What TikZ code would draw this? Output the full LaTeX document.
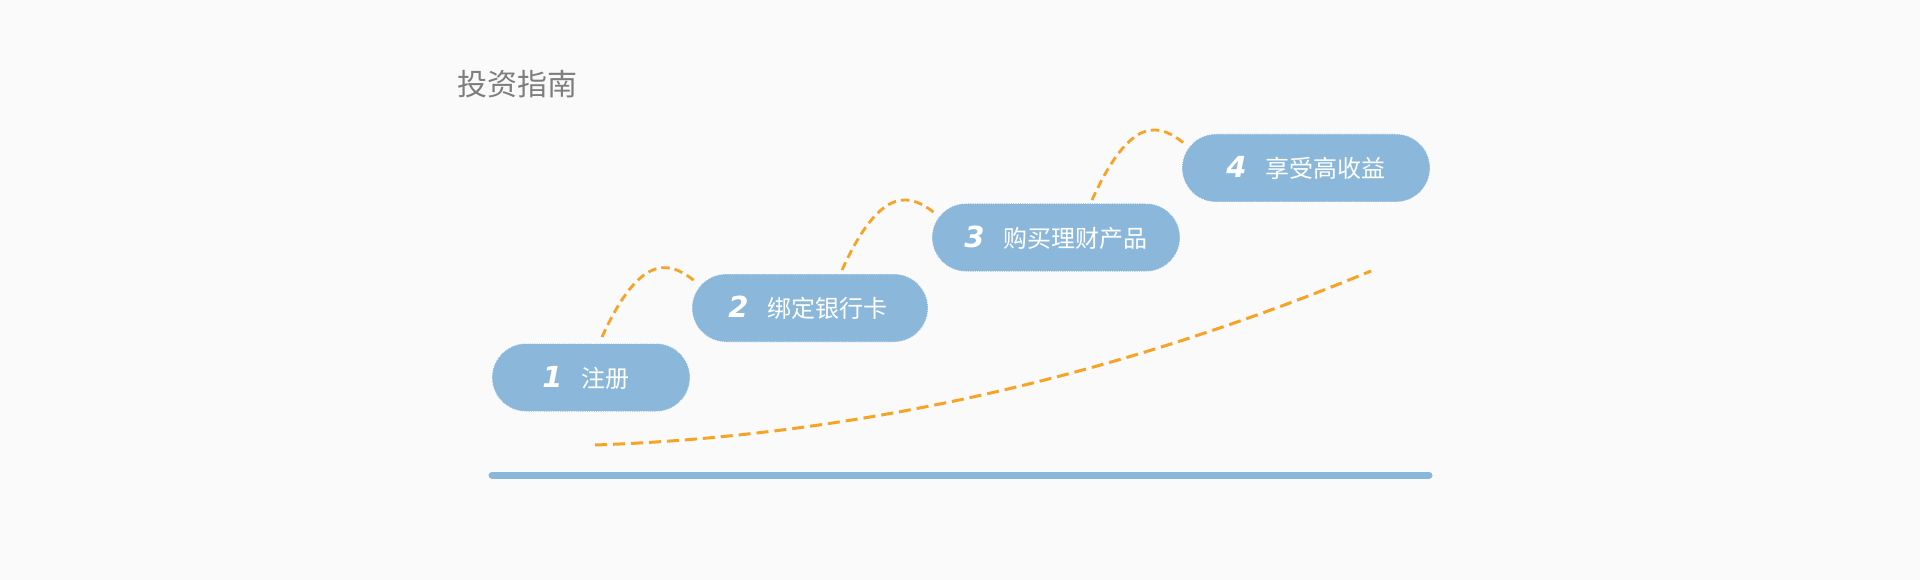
\documentclass[tikz,border=0pt]{standalone}
\usepackage{fontspec}
\newfontfamily\cjk{Noto Sans CJK SC}
\newfontfamily\numf{DejaVu Sans}[BoldItalicFont={DejaVu Sans Bold Oblique}]
\usetikzlibrary{calc}
\definecolor{bgc}{HTML}{FAFAFA}
\definecolor{pillc}{HTML}{8BB8DA}
\definecolor{orangec}{HTML}{F7A325}
\definecolor{titlec}{HTML}{7E7E7E}
\tikzset{
  pill/.style={rectangle, rounded corners=34pt, fill=pillc, draw=white, densely dotted, line width=0.8pt,
    minimum height=68pt, inner sep=0pt, text=white, align=center},
  arcdash/.style={draw=orangec, line width=2.8pt, dash pattern=on 8.5pt off 5pt},
  bigdash/.style={draw=orangec, line width=3pt, dash pattern=on 12pt off 6pt},
  basebar/.style={draw=pillc, line width=7pt, line cap=round},
}
\newcommand{\pilltext}[2]{{\numf\bfseries\itshape\fontsize{29}{29}\selectfont #1}\hspace{19pt}{\cjk\fontsize{24}{24}\selectfont #2}}
\begin{document}
\begin{tikzpicture}[x=1pt,y=-1pt]
\fill[bgc] (0,0) rectangle (1920,580);
\useasboundingbox (0,0) rectangle (1920,580);

\node[anchor=west, text=titlec, inner sep=0pt] (title) at (457,84) {\cjk\fontsize{30}{30}\selectfont 投资指南};

% base bar
\coordinate (barL) at (492,475);
\coordinate (barR) at (1429,475);
\draw[basebar] (barL) -- (barR);

% big growth curve
\coordinate (gs) at (595,445);
\coordinate (ge) at (1371,271);
\draw[bigdash] (gs) .. controls (854,436) and (1112,378) .. (ge);

% arc start / end points
\coordinate (a1s) at (602,337);
\coordinate (a1e) at (697,283);
\coordinate (a2s) at (842,270);
\coordinate (a2e) at (937,215);
\coordinate (a3s) at (1092,200);
\coordinate (a3e) at (1186,145);
\draw[arcdash] (a1s) .. controls +(40,-88) and +(-25,-21) .. (a1e);
\draw[arcdash] (a2s) .. controls +(40,-88) and +(-25,-21) .. (a2e);
\draw[arcdash] (a3s) .. controls +(40,-88) and +(-25,-21) .. (a3e);

% pills
\node[pill, minimum width=198pt] (p1) at (591,377.5) {\pilltext{1}{注册}\hspace{10pt}};
\node[pill, minimum width=236pt] (p2) at (810,308) {\pilltext{2}{绑定银行卡}\hspace{4pt}};
\node[pill, minimum width=248pt] (p3) at (1056,237.5) {\pilltext{3}{购买理财产品}};
\node[pill, minimum width=248pt] (p4) at (1306,168) {\pilltext{4}{享受高收益}};
\end{tikzpicture}
\end{document}
